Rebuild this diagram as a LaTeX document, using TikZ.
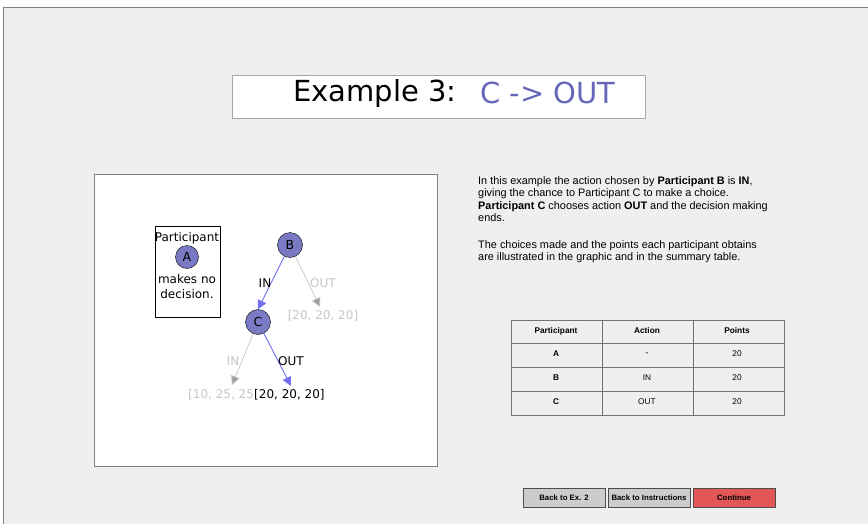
\documentclass[tikz,border=0pt]{standalone}
\usepackage{fontspec}
\setmainfont{Liberation Sans}
\newfontfamily\tahoma{DejaVu Sans}
\usetikzlibrary{arrows.meta}

\definecolor{panelgray}{RGB}{239,239,239}
\definecolor{nodefill}{RGB}{122,122,196}
\definecolor{pathblue}{RGB}{112,112,240}
\definecolor{faded}{RGB}{198,198,198}
\definecolor{titleblue}{RGB}{102,102,186}
\definecolor{btngray}{RGB}{204,204,204}
\definecolor{btnred}{RGB}{226,86,86}

\tikzset{
	player/.style = {circle, draw = black, fill = nodefill, minimum size = 25pt, inner sep = 0pt, font = \tahoma\fontsize{12.5}{12}\selectfont},
	gtext/.style = {inner sep = 0pt, font = \tahoma\fontsize{12}{15}\selectfont},
	chosen/.style = {draw = pathblue, line width = 0.9pt, -{Triangle[length = 9pt, width = 9pt]}},
	notchosen/.style = {draw = faded, line width = 0.7pt, -{Triangle[length = 9pt, width = 9pt, fill = faded!80!black]}},
	cell/.style = {inner sep = 0pt, font = \fontsize{8.3}{9}\selectfont},
	headcell/.style = {cell, font = \bfseries\fontsize{8.3}{9}\selectfont},
	button/.style = {draw = black!70, line width = 0.8pt, minimum width = 82pt, minimum height = 19pt, inner sep = 0pt, font = \bfseries\fontsize{7.8}{8}\selectfont}
}

\begin{document}
\begin{tikzpicture}[x = 1pt, y = -1pt]
		\useasboundingbox (0,0) rectangle (868,523);
		\fill[white] (0,0) rectangle (868,523);
		\draw[gray, fill = panelgray] (3,7) rectangle (869,524);

		% title
		\draw[gray!70, fill = white] (232,75) rectangle (645,118);
		\node[inner sep = 0pt, anchor = west, font = \tahoma\fontsize{29}{30}\selectfont] (title) at (293,93) {Example 3:};
		\node[inner sep = 0pt, anchor = west, text = titleblue, font = \tahoma\fontsize{29}{30}\selectfont] (move) at (480,93) {C -> OUT};

		% graphic
		\draw[gray, fill = white] (94,174) rectangle (437,466);
		\draw (155,226) rectangle (220,317);
		\node[gtext] (partA) at (187,238) {Participant};
		\node[player, minimum size = 23pt] (A) at (187,257) {A};
		\node[gtext, align = center] (nodec) at (187,287) {makes no\\decision.};

		\node[player] (B) at (290,245) {B};
		\node[player] (C) at (258,322) {C};
		\coordinate (tipBout) at (320,307);
		\coordinate (tipCin) at (232,385);
		\coordinate (tipCout) at (291,386);

		\draw[chosen] (B) -- (C.north);
		\draw[notchosen] (B) -- (tipBout);
		\draw[notchosen] (C) -- (tipCin);
		\draw[chosen] (C) -- (tipCout);

		\node[gtext] (lBin) at (265,283) {IN};
		\node[gtext, text = faded] (lBout) at (323,283) {OUT};
		\node[gtext, text = faded] (lCin) at (233,361) {IN};
		\node[gtext] (lCout) at (291,361) {OUT};

		\node[gtext, text = faded] (payBout) at (323,316) {[20, 20, 20]};
		\node[gtext, text = faded, anchor = west] (payCin) at (188,395) {[10, 25, 25};
		\node[gtext, anchor = west] (payCout) at (254,395) {[20, 20, 20]};

		% explanation
		\node[anchor = north west, inner sep = 0pt, align = left, font = \fontsize{10.9}{12.5}\selectfont] (expl) at (478,176)
			{In this example the action chosen by \textbf{Participant B} is \textbf{IN},\\
			giving the chance to Participant C to make a choice.\\
			\textbf{Participant C} chooses action \textbf{OUT} and the decision making\\
			ends.\\[14pt]
			The choices made and the points each participant obtains\\
			are illustrated in the graphic and in the summary table.};

		% summary table
		\draw[black!55, line width = 0.8pt] (511,320) rectangle (784,415);
		\foreach \yy in {343,367,391}
			\draw[black!55, line width = 0.6pt] (511,\yy) -- (784,\yy);
		\foreach \xx in {602,693}
			\draw[black!55, line width = 0.6pt] (\xx,320) -- (\xx,415);
		\node[headcell] (hP) at (556,331) {Participant};
		\node[headcell] (hA) at (647,331) {Action};
		\node[headcell] (hS) at (737,331) {Points};
		\node[headcell] (pA) at (556,354) {A};
		\node[headcell] (pB) at (556,378) {B};
		\node[headcell] (pC) at (556,402) {C};
		\node[cell] (aA) at (647,354) {-};
		\node[cell] (aB) at (647,378) {IN};
		\node[cell] (aC) at (647,402) {OUT};
		\node[cell] (sA) at (737,354) {20};
		\node[cell] (sB) at (737,378) {20};
		\node[cell] (sC) at (737,402) {20};

		% buttons
		\node[button, fill = btngray] (back2) at (564,498) {Back to Ex. 2};
		\node[button, fill = btngray] (backI) at (649,498) {Back to Instructions};
		\node[button, fill = btnred] (cont) at (734,498) {Continue};
	\end{tikzpicture}
\end{document}
